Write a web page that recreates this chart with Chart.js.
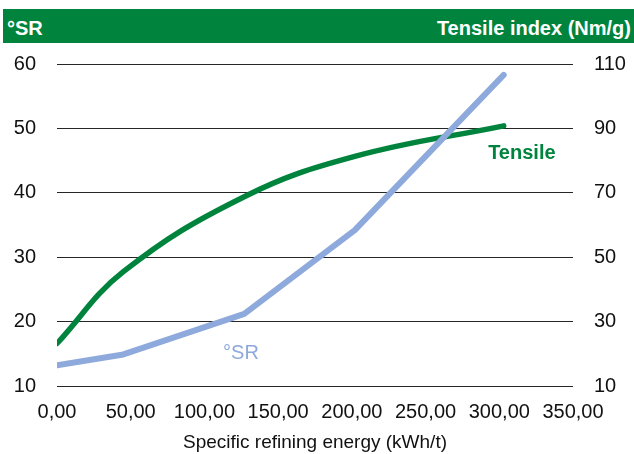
<!DOCTYPE html>
<html><head><meta charset="utf-8">
<script src="https://cdn.jsdelivr.net/npm/chart.js@4.4.1/dist/chart.umd.min.js"></script>
<style>
html,body{margin:0;padding:0;background:#fff;width:634px;height:454px;overflow:hidden;}
#wrap{position:relative;width:634px;height:454px;}
#c{position:absolute;left:0;top:0;}
#hdr{position:absolute;left:3px;top:9px;width:631px;height:34px;background:#00843D;color:#fff;font:bold 20px "Liberation Sans",Arial,sans-serif;line-height:20px;}
#hdr .l{position:absolute;left:4px;top:8.5px;}
#hdr .r{position:absolute;right:3px;top:8.5px;}
</style></head>
<body>
<div id="wrap">
<canvas id="c" width="634" height="454"></canvas>
<div id="hdr"><span class="l">°SR</span><span class="r">Tensile index (Nm/g)</span></div>
</div>
<script>
// Data
const energyX = [0, 45, 127, 202, 303];              // Specific refining energy (kWh/t)
const srValues = [13.2, 14.9, 21.2, 34.2, 58.3];     // °SR (left axis)
const tensileValues = [23.2, 45.5, 68.8, 81.3, 90.8]; // Tensile index (Nm/g) (right axis)
const xTickValues = [0, 50, 100, 150, 200, 250, 300, 350];
const xTickLabels = ['0,00', '50,00', '100,00', '150,00', '200,00', '250,00', '300,00', '350,00'];
const srTickLabels = ['10', '20', '30', '40', '50', '60'];
const tensileTickLabels = ['10', '30', '50', '70', '90', '110'];

const FONT = '"Liberation Sans", Arial, sans-serif';
const BLUE = '#8EA9DB';
const GREEN = '#00843D';

Chart.defaults.font.family = FONT;
Chart.defaults.font.size = 20;
Chart.defaults.color = '#111';

const seriesLabels = {
  id: 'seriesLabels',
  afterDatasetsDraw(chart) {
    const {ctx, scales} = chart;
    ctx.save();
    ctx.textAlign = 'center';
    ctx.textBaseline = 'middle';
    ctx.font = '20px ' + FONT;
    ctx.fillStyle = BLUE;
    ctx.fillText('°SR', scales.x.getPixelForValue(124.8), scales.y.getPixelForValue(15.0));
    ctx.font = 'bold 20px ' + FONT;
    ctx.fillStyle = GREEN;
    ctx.fillText('Tensile', scales.x.getPixelForValue(315.3), scales.y1.getPixelForValue(82.2));
    ctx.restore();
  }
};

new Chart(document.getElementById('c'), {
  type: 'line',
  data: {
    datasets: [
      {
        label: '°SR',
        data: energyX.map((x, i) => ({x, y: srValues[i]})),
        yAxisID: 'y',
        borderColor: BLUE,
        borderWidth: 6,
        tension: 0,
        pointRadius: 0,
        borderCapStyle: 'round',
        borderJoinStyle: 'round'
      },
      {
        label: 'Tensile',
        data: energyX.map((x, i) => ({x, y: tensileValues[i]})),
        yAxisID: 'y1',
        borderColor: GREEN,
        borderWidth: 5.5,
        tension: 0.4,
        pointRadius: 0,
        borderCapStyle: 'round',
        borderJoinStyle: 'round'
      }
    ]
  },
  options: {
    responsive: false,
    animation: false,
    devicePixelRatio: 1,
    layout: {padding: {top: 64, left: 0, right: 0, bottom: 0}},
    plugins: {legend: {display: false}, tooltip: {enabled: false}},
    scales: {
      x: {
        type: 'linear',
        min: 0, max: 350,
        afterFit(s) { s.height = 68; },
        afterBuildTicks(s) { s.ticks = xTickValues.map(v => ({value: v})); },
        ticks: {
          padding: 14,
          maxRotation: 0,
          autoSkip: false,
          callback: (v) => xTickLabels[xTickValues.indexOf(v)]
        },
        grid: {display: false, drawTicks: false},
        border: {display: false},
        title: {display: true, text: 'Specific refining energy (kWh/t)', font: {size: 19}, padding: {top: 0, bottom: 0}}
      },
      y: {
        position: 'left',
        min: 10, max: 60,
        afterFit(s) { s.width = 57; },
        ticks: {
          stepSize: 10,
          padding: 21,
          callback: (v) => srTickLabels[(v - 10) / 10]
        },
        grid: {color: '#262626', lineWidth: 1, drawTicks: false},
        border: {display: false}
      },
      y1: {
        position: 'right',
        min: 10, max: 110,
        afterFit(s) { s.width = 61; },
        ticks: {
          stepSize: 20,
          padding: 21,
          callback: (v) => tensileTickLabels[(v - 10) / 20]
        },
        grid: {display: false, drawTicks: false},
        border: {display: false}
      }
    }
  },
  plugins: [seriesLabels]
});
</script>
</body></html>
